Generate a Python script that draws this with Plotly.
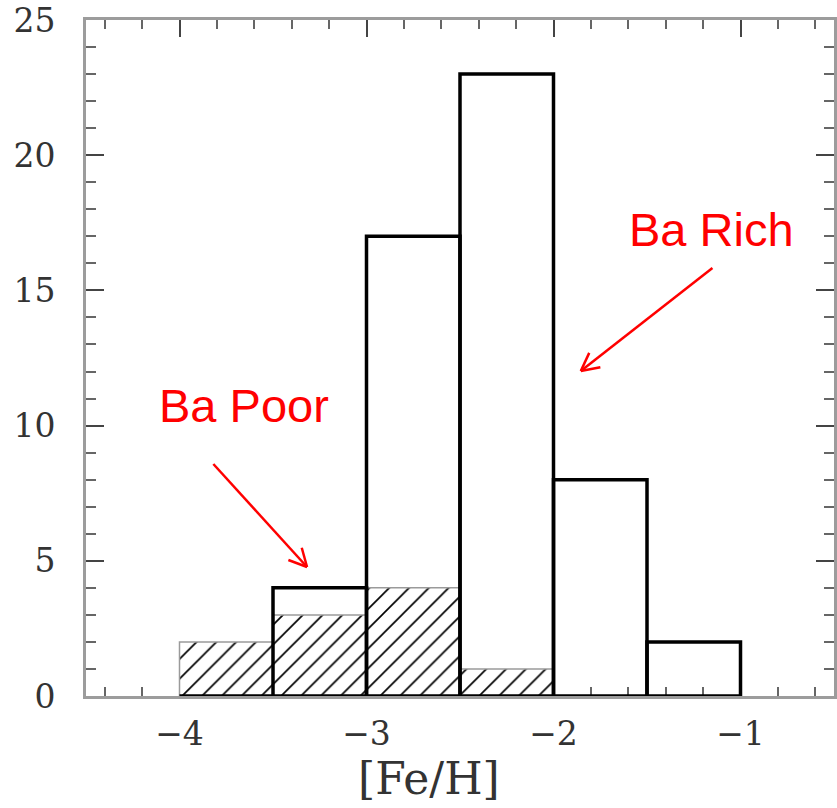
import math
import plotly.graph_objects as go

# Histogram of [Fe/H]: bin edges and counts
bin_edges = [-4.0, -3.5, -3.0, -2.5, -2.0, -1.5, -1.0]
all_counts = [0, 4, 17, 23, 8, 2]          # full sample (open histogram)
ba_poor_counts = [2, 3, 4, 1, 0, 0]        # Ba-poor subsample (hatched)

x_ticks = [-4, -3, -2, -1]
x_tick_text = ["\u22124", "\u22123", "\u22122", "\u22121"]
y_ticks = [0, 5, 10, 15, 20, 25]

# Annotation text and arrow (tail -> head) positions in data units
labels = ["Ba Rich", "Ba Poor"]
label_pos = [(-1.153, 17.27), (-3.656, 10.76)]
arrow_tail = [(-1.150, 15.83), (-3.819, 8.58)]
arrow_head = [(-1.854, 12.02), (-3.318, 4.77)]

W, H = 837, 808
M_L, M_R, M_T, M_B = 86, 0, 20, 112
X_RANGE = [-4.5, -0.5]
Y_RANGE = [0, 25]

centers = [(a + b) / 2 for a, b in zip(bin_edges[:-1], bin_edges[1:])]
widths = [b - a for a, b in zip(bin_edges[:-1], bin_edges[1:])]

fig = go.Figure()

# Hatched bars for the Ba-poor stars
fig.add_trace(go.Bar(
    x=centers, y=ba_poor_counts, width=widths,
    marker=dict(
        color="white",
        line=dict(color="#9a9a9a", width=1.5),
        pattern=dict(shape="/", size=14, solidity=0.12, fgcolor="#000",
                     fgopacity=1, bgcolor="white"),
    ),
    cliponaxis=False, showlegend=False, hoverinfo="skip",
))

# Thick open outline for the whole sample
ox, oy = [], []
for (a, b), c in zip(zip(bin_edges[:-1], bin_edges[1:]), all_counts):
    ox += [a, a, b, b, a, None]
    oy += [0, c, c, 0, 0, None]
fig.add_trace(go.Scatter(
    x=ox, y=oy, mode="lines",
    line=dict(color="black", width=3.5),
    cliponaxis=False, showlegend=False, hoverinfo="skip",
))

# Red labels with open-headed arrows
plot_w = W - M_L - M_R
plot_h = H - M_T - M_B
sx = plot_w / (X_RANGE[1] - X_RANGE[0])
sy = plot_h / (Y_RANGE[1] - Y_RANGE[0])
red = "#ff0000"
shapes = []
for (tx, ty), (hx, hy) in zip(arrow_tail, arrow_head):
    shapes.append(dict(type="line", x0=tx, y0=ty, x1=hx, y1=hy,
                       line=dict(color=red, width=2.5)))
    # direction from head back toward tail, in pixels (y up)
    dx, dy = (tx - hx) * sx, (ty - hy) * sy
    ang = math.atan2(dy, dx)
    for da in (math.radians(27), -math.radians(27)):
        ex = hx + 20 * math.cos(ang + da) / sx
        ey = hy + 20 * math.sin(ang + da) / sy
        shapes.append(dict(type="line", x0=hx, y0=hy, x1=ex, y1=ey,
                           line=dict(color=red, width=2.5)))

annotations = []
for text, (lx, ly) in zip(labels, label_pos):
    annotations.append(dict(
        x=lx, y=ly, xref="x", yref="y", text=text, showarrow=False,
        xanchor="center", yanchor="middle",
        font=dict(family="Liberation Sans, Arial, sans-serif", size=47, color=red),
    ))

# x-axis title, placed below the plot area
annotations.append(dict(
    x=-2.668, y=-82 / plot_h, xref="x", yref="paper", text="[Fe/H]", showarrow=False,
    xanchor="center", yanchor="middle",
    font=dict(family="DejaVu Serif, serif", size=44, color="#333"),
))

axis_common = dict(
    showline=True, linecolor="#9c9c9c", linewidth=3,
    mirror="allticks", ticks="inside", tickcolor="#444", tickwidth=2,
    showgrid=False, zeroline=False, layer="below traces",
    tickfont=dict(family="DejaVu Serif, serif", size=33, color="#333"),
)

fig.update_layout(
    width=W, height=H,
    margin=dict(l=M_L, r=M_R, t=M_T, b=M_B),
    paper_bgcolor="white", plot_bgcolor="white",
    barmode="overlay",
    xaxis=dict(range=X_RANGE, tickvals=x_ticks, ticktext=x_tick_text, ticklen=17,
               ticklabelstandoff=6,
               minor=dict(dtick=0.2, tick0=0, ticks="inside", ticklen=9,
                          tickcolor="#666", tickwidth=2),
               **axis_common),
    yaxis=dict(range=Y_RANGE, tickvals=y_ticks, ticklen=18,
               ticklabelstandoff=21,
               minor=dict(dtick=1, tick0=0, ticks="inside", ticklen=10,
                          tickcolor="#666", tickwidth=2),
               **axis_common),
    shapes=shapes,
    annotations=annotations,
)

fig.write_html("out.html")
